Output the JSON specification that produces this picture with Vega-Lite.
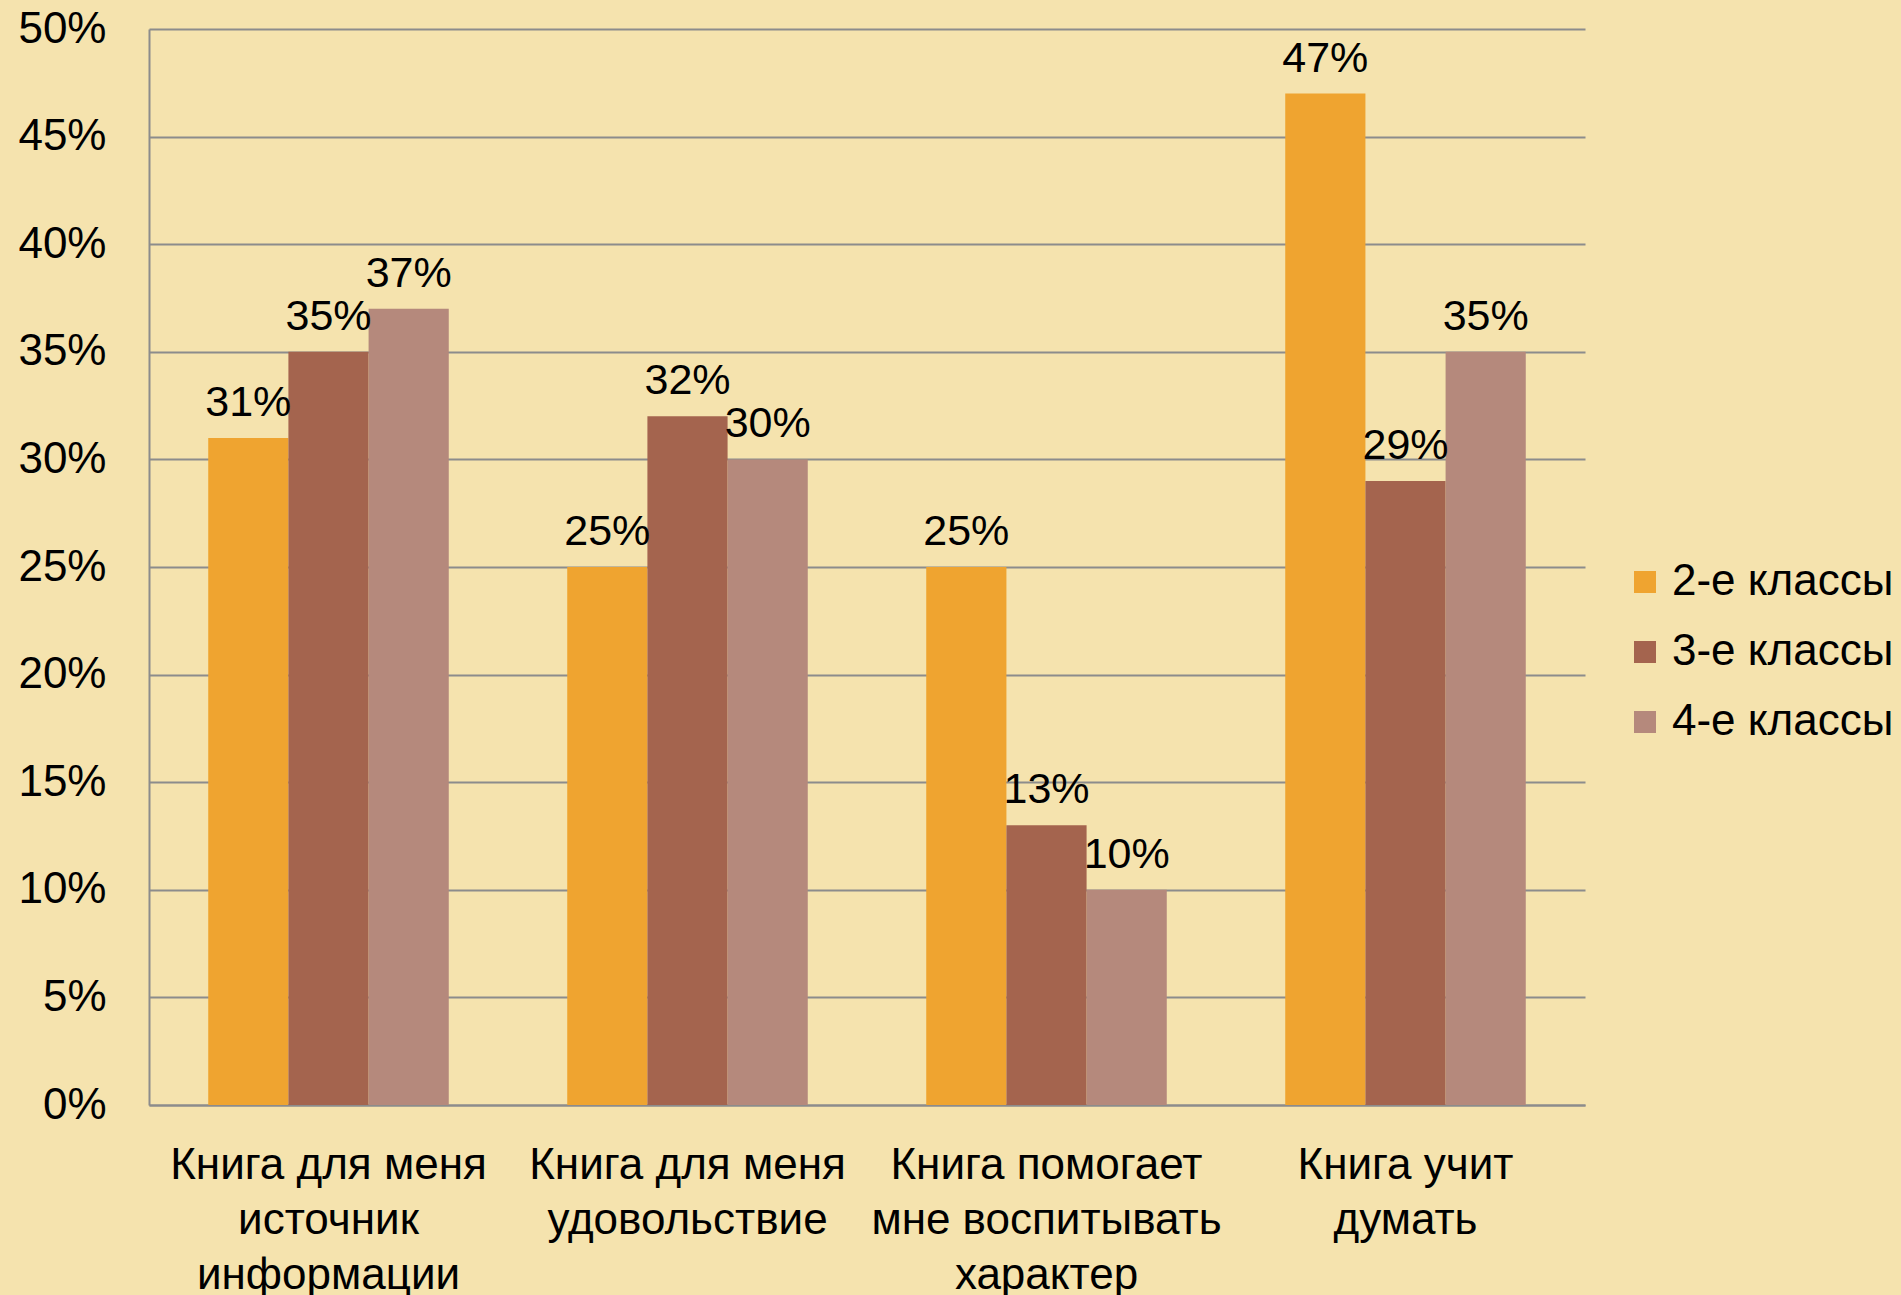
{
  "$schema": "https://vega.github.io/schema/vega-lite/v6.json",
  "width": 1436,
  "height": 1076,
  "autosize": {"type": "none"},
  "padding": {"left": 149, "top": 29, "right": 316, "bottom": 190},
  "background": "#F5E3AE",
  "config": {
    "view": {"stroke": null},
    "font": "Liberation Sans",
    "scale": {"offsetBandPaddingInner": 0, "offsetBandPaddingOuter": 0}
  },
  "data": {
    "values": [
      {"cat": "Книга для меня|источник|информации", "grp": "2-е классы", "v": 0.31},
      {"cat": "Книга для меня|источник|информации", "grp": "3-е классы", "v": 0.35},
      {"cat": "Книга для меня|источник|информации", "grp": "4-е классы", "v": 0.37},
      {"cat": "Книга для меня|удовольствие", "grp": "2-е классы", "v": 0.25},
      {"cat": "Книга для меня|удовольствие", "grp": "3-е классы", "v": 0.32},
      {"cat": "Книга для меня|удовольствие", "grp": "4-е классы", "v": 0.30},
      {"cat": "Книга помогает|мне воспитывать|характер", "grp": "2-е классы", "v": 0.25},
      {"cat": "Книга помогает|мне воспитывать|характер", "grp": "3-е классы", "v": 0.13},
      {"cat": "Книга помогает|мне воспитывать|характер", "grp": "4-е классы", "v": 0.10},
      {"cat": "Книга учит|думать", "grp": "2-е классы", "v": 0.47},
      {"cat": "Книга учит|думать", "grp": "3-е классы", "v": 0.29},
      {"cat": "Книга учит|думать", "grp": "4-е классы", "v": 0.35}
    ]
  },
  "encoding": {
    "x": {
      "field": "cat",
      "type": "nominal",
      "sort": null,
      "scale": {"paddingInner": 0.33, "paddingOuter": 0.165},
      "axis": {
        "title": null,
        "labelAngle": 0,
        "labelExpr": "split(datum.label, '|')",
        "labelFontSize": 44,
        "labelLineHeight": 55,
        "labelLimit": 0,
        "labelColor": "#000000",
        "labelPadding": 38,
        "labelBaseline": "top",
        "ticks": false,
        "domainColor": "#8C8C8C",
        "domainWidth": 2
      }
    },
    "xOffset": {"field": "grp", "type": "nominal", "sort": null},
    "y": {
      "field": "v",
      "type": "quantitative",
      "scale": {"domain": [0, 0.5], "nice": false},
      "axis": {
        "title": null,
        "values": [0, 0.05, 0.1, 0.15, 0.2, 0.25, 0.3, 0.35, 0.4, 0.45, 0.5],
        "format": ".0%",
        "labelFontSize": 44,
        "labelColor": "#000000",
        "labelPadding": 43,
        "ticks": false,
        "grid": true,
        "gridColor": "#8C8C8C",
        "gridWidth": 2,
        "domainColor": "#8C8C8C",
        "domainWidth": 2
      }
    }
  },
  "layer": [
    {
      "mark": {"type": "bar"},
      "encoding": {
        "color": {
          "field": "grp",
          "type": "nominal",
          "sort": null,
          "scale": {"domain": ["2-е классы", "3-е классы", "4-е классы"], "range": ["#EFA430", "#A4644E", "#B5897C"]},
          "legend": {
            "title": null,
            "orient": "none",
            "legendX": 1474,
            "legendY": 531,
            "symbolType": "square",
            "symbolSize": 484,
            "symbolStrokeWidth": 0,
            "labelFontSize": 44,
            "labelLimit": 0,
            "labelColor": "#000000",
            "labelOffset": 5,
            "rowPadding": 26
          }
        }
      }
    },
    {
      "mark": {"type": "text", "fontSize": 43, "color": "#000000", "baseline": "alphabetic", "dy": -22},
      "encoding": {
        "text": {"field": "v", "type": "quantitative", "format": ".0%"}
      }
    }
  ]
}
